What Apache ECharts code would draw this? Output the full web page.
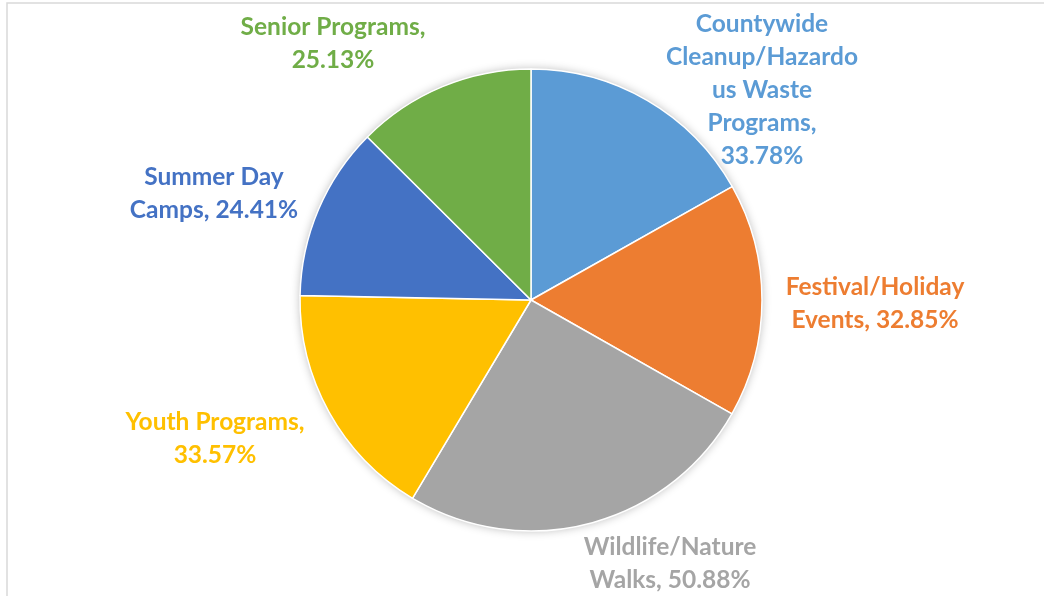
<!DOCTYPE html>
<html>
<head>
<meta charset="utf-8">
<script src="https://cdn.jsdelivr.net/npm/echarts@6/dist/echarts.min.js"></script>
<style>
  html, body { margin: 0; padding: 0; background: #ffffff; }
  #chart { width: 1044px; height: 596px; }
</style>
</head>
<body>
<div id="chart"></div>
<script>
// Program categories (with their label line breaks) and participation rates (%)
const categories = [
  'Countywide\nCleanup/Hazardo\nus Waste\nPrograms,',
  'Festival/Holiday\nEvents,',
  'Wildlife/Nature\nWalks,',
  'Youth Programs,',
  'Summer Day\nCamps,',
  'Senior Programs,'
];
const rates = [33.78, 32.85, 50.88, 33.57, 24.41, 25.13];
// what goes between the name and the value in each label
const valueBreaks = ['\n', ' ', ' ', '\n', ' ', '\n'];
const sliceColors = ['#5B9BD5', '#ED7D31', '#A5A5A5', '#FFC000', '#4472C4', '#70AD47'];

// Where each label block is centred (px)
const labelSpots = [
  [762, 90], [875, 304], [670, 564], [215, 439], [214, 194], [333, 44]
];

const radius = 231;

const chart = echarts.init(document.getElementById('chart'), null, { renderer: 'canvas' });

chart.setOption({
  backgroundColor: '#ffffff',
  animation: false,
  graphic: [{
    type: 'rect',
    silent: true,
    shape: { x: 7, y: 3, width: 1100, height: 700 },
    style: { fill: 'none', stroke: '#d9d9d9', lineWidth: 1.5 }
  }],
  series: [
    {
      // soft drop shadow under the whole pie
      type: 'pie',
      silent: true,
      z: 1,
      center: [531, 300],
      radius: radius,
      label: { show: false },
      labelLine: { show: false },
      itemStyle: {
        color: '#ffffff',
        shadowBlur: 10,
        shadowColor: 'rgba(0,0,0,0.28)'
      },
      data: [1]
    },
    {
      type: 'pie',
      z: 2,
      center: [531, 300],
      radius: radius,
      startAngle: 90,
      clockwise: true,
      avoidLabelOverlap: false,
      itemStyle: { borderColor: '#ffffff', borderWidth: 1.5 },
      label: {
        show: true,
        position: 'outside',
        fontFamily: 'Lato',
        fontWeight: 'bold',
        fontSize: 24.5,
        lineHeight: 33,
        align: 'center',
        formatter: function (p) {
          return p.name + valueBreaks[p.dataIndex] + p.value.toFixed(2) + '%';
        }
      },
      labelLine: { show: false },
      labelLayout: function (p) {
        const s = labelSpots[p.dataIndex];
        return { x: s[0], y: s[1], align: 'center', verticalAlign: 'middle' };
      },
      data: categories.map((c, i) => ({
        name: c,
        value: rates[i],
        itemStyle: { color: sliceColors[i] },
        label: { color: sliceColors[i] }
      }))
    }
  ]
});
</script>
</body>
</html>
